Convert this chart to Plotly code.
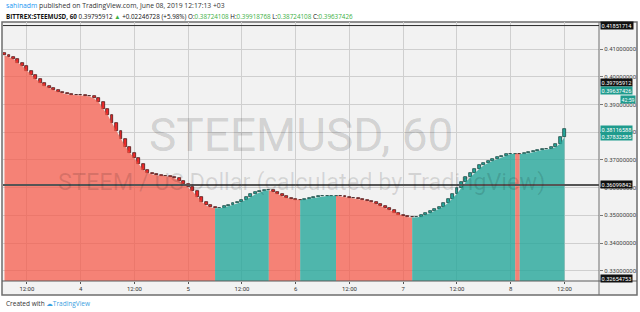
import plotly.graph_objects as go
import pandas as pd

# ---------------- data ----------------
start_time = "2019-06-03 07:00"          # first hourly candle
first_open = 0.40850
closes = [
    0.40784, 0.40712, 0.40640, 0.40514, 0.40388, 0.40227, 0.40065, 0.39921, 0.39795, 0.39687,
    0.39597, 0.39525, 0.39460, 0.39406, 0.39363, 0.39338, 0.39334, 0.39331, 0.39320, 0.39291,
    0.39219, 0.39093, 0.38849, 0.38633, 0.38338, 0.38050, 0.37763, 0.37475, 0.37259, 0.37068,
    0.36845, 0.36647, 0.36540, 0.36478, 0.36450, 0.36432, 0.36424, 0.36389, 0.36335, 0.36252,
    0.36133, 0.36007, 0.35874, 0.35676, 0.35496, 0.35360, 0.35288, 0.35252, 0.35281, 0.35324,
    0.35371, 0.35432, 0.35493, 0.35561, 0.35658, 0.35766, 0.35838, 0.35889, 0.35905, 0.35912,
    0.35853, 0.35784, 0.35694, 0.35633, 0.35594, 0.35570, 0.35562, 0.35600, 0.35630, 0.35660,
    0.35685, 0.35700, 0.35705, 0.35708, 0.35710, 0.35688, 0.35665, 0.35640, 0.35615, 0.35585,
    0.35550, 0.35514, 0.35478, 0.35407, 0.35335, 0.35263, 0.35184, 0.35101, 0.35029, 0.34975,
    0.34928, 0.34924, 0.34957, 0.35011, 0.35083, 0.35155, 0.35227, 0.35317, 0.35443, 0.35604,
    0.35784, 0.36000, 0.36216, 0.36378, 0.36540, 0.36683, 0.36809, 0.36899, 0.36971, 0.37025,
    0.37097, 0.37158, 0.37212, 0.37220, 0.37228, 0.37214, 0.37241, 0.37277, 0.37320, 0.37360,
    0.37378, 0.37403, 0.37457, 0.37583, 0.37832585, 0.38116588,
]

x_range = ["2019-06-03 06:40", "2019-06-08 19:42"]
y_range = [0.3263, 0.4198]
x_tick_start = "2019-06-03 12:00"
x_ticktext = ["12:00", "4", "12:00", "5", "12:00", "6", "12:00", "7", "12:00", "8", "12:00"]

level_lines = [0.41851714, 0.36099842]
price_labels = ["0.41851714", "0.39795912", "0.39637426", "0.38116588", "0.37832585", "0.36099842", "0.32654753"]
price_label_kind = ["black", "black", "teal", "teal", "teal", "black", "black"]
countdown = "42:59"

header_user = "sahinadm"
header_rest = " published on TradingView.com, June 08, 2019 12:17:13 +03"
symbol = "BITTREX:STEEMUSD, 60"
last_price = "0.39795912"
change = "+0.02246728 (+5.98%)"
ohlc_names = ["O:", "H:", "L:", "C:"]
ohlc_values = ["0.38724108", "0.39918768", "0.38724108", "0.39637426"]
watermark = "STEEMUSD, 60"
watermark_sub = "STEEM / US Dollar (calculated by TradingView)"

# ---------------- styles ----------------
W, H = 640, 312
ML, MR, MT, MB = 3, 41, 22, 31
PW, PH = W - ML - MR, H - MT - MB

def px_x(px):
    return (px - ML) / PW

def px_y(py):
    return (H - MB - py) / PH

UP_AREA = "rgba(38,166,154,0.80)"
DN_AREA = "rgba(247,82,65,0.70)"
UP_BODY = "#26a69a"
DN_BODY = "#ee2a2a"
UP_EDGE = "#0f3a35"
DN_EDGE = "#3a0c0c"
LABEL_BG = {"black": "#111111", "teal": "#1f9b8d"}

times = pd.date_range(start_time, periods=len(closes), freq="h")
opens = [first_open] + closes[:-1]
lows = [min(o, c) for o, c in zip(opens, closes)]
up = [c >= o for o, c in zip(opens, closes)]

fig = go.Figure()

# ---- trend-coloured area (segment i-1 -> i coloured by candle i direction) ----
runs = []
for i in range(1, len(closes)):
    if runs and runs[-1][2] == up[i]:
        runs[-1][1] = i
    else:
        runs.append([i - 1, i, up[i]])
for a, b, u in runs:
    fig.add_trace(go.Scatter(
        x=times[a:b + 1], y=lows[a:b + 1], mode="lines",
        line=dict(width=0, color=UP_AREA if u else DN_AREA),
        fill="tozeroy", fillcolor=UP_AREA if u else DN_AREA,
        hoverinfo="skip", showlegend=False))

# ---- candles as floating bars ----
heights = [max(abs(c - o), 0.00005) for o, c in zip(opens, closes)]
fig.add_trace(go.Bar(
    x=times, y=heights, base=lows,
    width=0.66 * 3600 * 1000,
    marker=dict(color=[UP_BODY if u else DN_BODY for u in up],
                line=dict(color=[UP_EDGE if u else DN_EDGE for u in up], width=0.7)),
    hoverinfo="skip", showlegend=False))

shapes = []
# faint trend-change bands
for i in range(1, len(closes)):
    if up[i] != up[i - 1]:
        shapes.append(dict(type="rect", xref="x", yref="paper", layer="below",
                           x0=times[i] - pd.Timedelta(minutes=30), x1=times[i] + pd.Timedelta(minutes=30),
                           y0=0, y1=1, line=dict(width=0),
                           fillcolor="rgba(38,166,154,0.10)" if up[i] else "rgba(239,83,80,0.10)"))
# outer frame
shapes.append(dict(type="rect", xref="paper", yref="paper", layer="below",
                   x0=px_x(2), x1=px_x(637), y0=px_y(295), y1=px_y(22),
                   fillcolor="#f2f2f2", line=dict(color="#6e6e6e", width=1.5)))
# separators
shapes.append(dict(type="line", xref="paper", yref="paper", x0=1, x1=1, y0=px_y(295), y1=px_y(22),
                   line=dict(color="#6e6e6e", width=1)))
shapes.append(dict(type="line", xref="paper", yref="paper", x0=px_x(2), x1=px_x(637), y0=0, y1=0,
                   line=dict(color="#5a5a5a", width=1)))
# level lines
shapes.append(dict(type="line", xref="paper", yref="y", x0=0, x1=1, y0=level_lines[0], y1=level_lines[0],
                   line=dict(color="#2a2a2a", width=1)))
shapes.append(dict(type="line", xref="paper", yref="y", x0=0, x1=1, y0=level_lines[1], y1=level_lines[1],
                   line=dict(color="#555555", width=2)))

annotations = []
# watermark
annotations.append(dict(xref="paper", yref="paper", x=0.5, y=px_y(135), text=watermark, showarrow=False,
                        font=dict(family="Roboto", size=46, color="rgba(0,0,0,0.15)")))
annotations.append(dict(xref="paper", yref="paper", x=0.5, y=px_y(182), text=watermark_sub, showarrow=False,
                        font=dict(family="Roboto", size=23.5, color="rgba(0,0,0,0.12)")))
# header
annotations.append(dict(xref="paper", yref="paper", x=px_x(4), y=px_y(6), xanchor="left", yanchor="middle",
                        showarrow=False,
                        text=f'<span style="color:#2196f3">{header_user}</span>{header_rest}',
                        font=dict(family="Open Sans", size=6.8, color="#333333")))
green = "#3cb043"
ohlc = "".join(f' {n}<span style="color:{green}">{v}</span>' for n, v in zip(ohlc_names, ohlc_values))
annotations.append(dict(xref="paper", yref="paper", x=px_x(4), y=px_y(16), xanchor="left", yanchor="middle",
                        showarrow=False,
                        text=f'<b>{symbol}</b> {last_price} <span style="color:{green}">▲</span> {change}{ohlc}',
                        font=dict(family="Open Sans", size=6.3, color="#111111")))
# footer
annotations.append(dict(xref="paper", yref="paper", x=px_x(4), y=px_y(303), xanchor="left", yanchor="middle",
                        showarrow=False,
                        text='Created with <span style="color:#3aa0e0;font-family:DejaVu Sans">☁</span>'
                             '<span style="color:#3aa0e0">TradingView</span>',
                        font=dict(family="Open Sans", size=6.5, color="#333333")))
# price labels on axis
shift = {"0.39637426": -4, "0.32654753": 2}
for txt, kind in zip(price_labels, price_label_kind):
    annotations.append(dict(xref="paper", yref="y", x=1, y=float(txt), xanchor="left", yanchor="middle",
                            xshift=1, yshift=shift.get(txt, 0), showarrow=False, text=txt,
                            bgcolor=LABEL_BG[kind], borderpad=0.6,
                            font=dict(family="Roboto", size=5.6, color="#ffffff")))
annotations.append(dict(xref="paper", yref="y", x=px_x(620), y=float(price_labels[2]), xanchor="left",
                        yanchor="middle", yshift=-13, showarrow=False, text=countdown,
                        bgcolor=LABEL_BG["teal"], borderpad=0.6,
                        font=dict(family="Roboto", size=5.2, color="#ffffff")))

fig.update_layout(
    width=W, height=H,
    margin=dict(l=ML, r=MR, t=MT, b=MB, pad=0),
    paper_bgcolor="white", plot_bgcolor="#f2f2f2",
    showlegend=False, hovermode=False, bargap=0,
    shapes=shapes, annotations=annotations,
    xaxis=dict(type="date", range=x_range,
               tickvals=pd.date_range(x_tick_start, periods=len(x_ticktext), freq="12h"),
               ticktext=x_ticktext, showgrid=True, gridcolor="#cfcfcf", gridwidth=1,
               ticks="outside", ticklen=2, tickcolor="#555555", zeroline=False, showline=False,
               tickfont=dict(family="Roboto", size=6, color="#333333")),
    yaxis=dict(range=y_range, side="right", tick0=0.33, dtick=0.01, tickformat=".8f",
               showgrid=True, gridcolor="#cfcfcf", gridwidth=1, zeroline=False, showline=False,
               ticks="outside", ticklen=3, tickcolor="#777777",
               tickfont=dict(family="Roboto", size=6, color="#444444")),
)

fig.write_html("out.html")
